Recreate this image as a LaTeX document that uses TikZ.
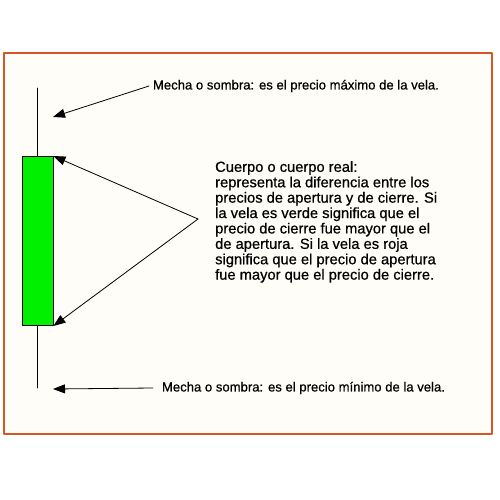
\documentclass[tikz,border=0pt]{standalone}
\usepackage{fontspec}
\setmainfont{Liberation Sans}[FakeBold=0.6]
\newfontfamily\rotulo{Liberation Sans}[FakeBold=0.6]
\usetikzlibrary{arrows.meta}
\definecolor{marco}{RGB}{214,86,34}
\definecolor{crema}{RGB}{255,253,248}
\definecolor{verde}{RGB}{0,240,0}
\begin{document}
\begin{tikzpicture}[x=1pt, y=-1pt, line cap=round, line join=round,
    flecha/.style={line width=0.8pt, -{Triangle[length=12pt, width=9pt]}},
    texto/.style={inner sep=0pt, outer sep=0pt, anchor=west, font=\rotulo\fontsize{13.1}{15}\selectfont},
    mecha/.style={line width=0.9pt}]
  \useasboundingbox (0,0) rectangle (500,500);
  \draw[marco, line width=2.4pt, fill=crema] (4,53) rectangle (492,434);
  % vela
  \node[draw, line width=0.9pt, fill=verde, minimum width=31pt, minimum height=169pt,
    inner sep=0pt] (cuerpo) at (37.5,241) {};
  \coordinate (mechaA) at (37.5,88);
  \coordinate (mechaB) at (37.5,388);
  \draw[mecha] (mechaA) -- (cuerpo.north);
  \draw[mecha] (cuerpo.south) -- (mechaB);
  % textos
  \node[texto] (max) at (153,86) {Mecha o sombra: es el precio máximo de la vela.};
  \node[texto] (min) at (162,388) {Mecha o sombra: es el precio mínimo de la vela.};
  \node[inner sep=0pt, anchor=north west, align=left,
    font=\rotulo\fontsize{14.7}{15.4}\selectfont] (real) at (215,161)
    {Cuerpo o cuerpo real:\\
     representa la diferencia entre los\\
     precios de apertura y de cierre. Si\\
     la vela es verde significa que el\\
     precio de cierre fue mayor que el\\
     de apertura. Si la vela es roja\\
     significa que el precio de apertura\\
     fue mayor que el precio de cierre.};
  % flechas
  \coordinate (vertice) at (198,219);
  \coordinate (puntaA) at (53,117);
  \coordinate (puntaB) at (53,389);
  \draw[flecha] ([xshift=-4pt]max.west) -- (puntaA);
  \draw[flecha] ([xshift=-9pt]min.west) -- (puntaB);
  \draw[flecha] (vertice) -- (cuerpo.north east);
  \draw[flecha] (vertice) -- (cuerpo.south east);
\end{tikzpicture}
\end{document}
